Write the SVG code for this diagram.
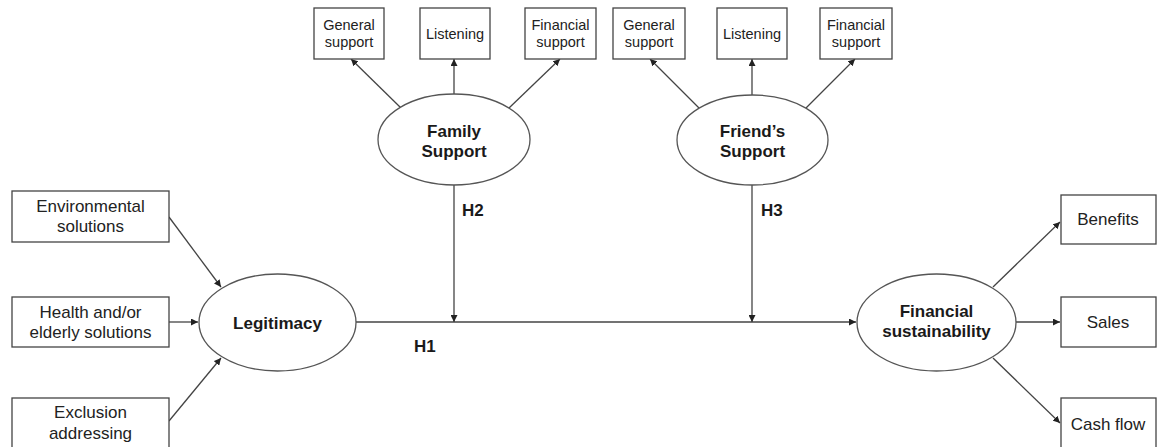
<svg xmlns="http://www.w3.org/2000/svg" width="1157" height="447" viewBox="0 0 1157 447">
<style>
.box{fill:#fff;stroke:#444;stroke-width:1.3}
.ell{fill:#fff;stroke:#555;stroke-width:1.3}
.t{font-family:"Liberation Sans",Arial,sans-serif;font-size:17px;fill:#222;text-anchor:middle}
.s{font-family:"Liberation Sans",Arial,sans-serif;font-size:14.5px;fill:#222;text-anchor:middle}
.b{font-family:"Liberation Sans",Arial,sans-serif;font-size:17px;font-weight:bold;fill:#1a1a1a;text-anchor:middle}
.h{font-family:"Liberation Sans",Arial,sans-serif;font-size:17px;font-weight:bold;fill:#1a1a1a}
.c{stroke:#444;stroke-width:1.3;fill:none;marker-end:url(#ah)}
.n{stroke:#444;stroke-width:1.3;fill:none}
</style>
<defs>
<marker id="ah" viewBox="0 0 10 10" refX="10" refY="5" markerWidth="7" markerHeight="7" markerUnits="userSpaceOnUse" orient="auto">
<path d="M0,0 L10,5 L0,10 z" fill="#222"/>
</marker>
</defs>
<rect width="1157" height="447" fill="#fff"/>
<g id="connectors">
<line class="c" x1="169" y1="217" x2="221" y2="287"/>
<line class="c" x1="169" y1="322" x2="198" y2="322"/>
<line class="c" x1="169" y1="421" x2="221" y2="358"/>
<line class="c" x1="356" y1="322" x2="856" y2="322"/>
<line class="c" x1="454" y1="185" x2="454" y2="322"/>
<line class="c" x1="752" y1="185" x2="752" y2="322"/>
<line class="c" x1="401" y1="108" x2="351" y2="59"/>
<line class="c" x1="454" y1="94" x2="454" y2="59"/>
<line class="c" x1="509" y1="108" x2="560" y2="59"/>
<line class="c" x1="699" y1="108" x2="650" y2="59"/>
<line class="c" x1="752" y1="95" x2="752" y2="59"/>
<line class="c" x1="806" y1="108" x2="855" y2="59"/>
<line class="c" x1="993" y1="287" x2="1060" y2="222"/>
<line class="c" x1="1016" y1="322" x2="1060" y2="322"/>
<line class="c" x1="993" y1="358" x2="1060" y2="423"/>
<text class="h" x="462" y="216">H2</text>
<text class="h" x="761" y="216">H3</text>
<text class="h" x="414" y="352">H1</text>
</g>
<g id="env"><rect class="box" x="12" y="191" width="157" height="51"/><text class="t" x="90.5" y="212">Environmental</text><text class="t" x="90.5" y="232">solutions</text></g>
<g id="health"><rect class="box" x="12" y="297" width="157" height="50"/><text class="t" x="90.5" y="318">Health and/or</text><text class="t" x="90.5" y="338">elderly solutions</text></g>
<g id="excl"><rect class="box" x="12" y="398" width="157" height="60"/><text class="t" x="90.5" y="418">Exclusion</text><text class="t" x="90.5" y="439">addressing</text></g>
<g id="legit"><ellipse class="ell" cx="277.5" cy="322.5" rx="78.5" ry="48.5"/><text class="b" x="277.5" y="328.5">Legitimacy</text></g>
<g id="family"><ellipse class="ell" cx="454" cy="139.5" rx="76" ry="45.5"/><text class="b" x="454" y="137">Family</text><text class="b" x="454" y="157">Support</text></g>
<g id="fam-gen"><rect class="box" x="314" y="8" width="70" height="51"/><text class="s" x="349" y="30">General</text><text class="s" x="349" y="47">support</text></g>
<g id="fam-lis"><rect class="box" x="420" y="8" width="70" height="51"/><text class="s" x="455" y="39">Listening</text></g>
<g id="fam-fin"><rect class="box" x="525" y="8" width="71" height="51"/><text class="s" x="560.5" y="30">Financial</text><text class="s" x="560.5" y="47">support</text></g>
<g id="friend"><ellipse class="ell" cx="752.5" cy="140" rx="75.5" ry="45"/><text class="b" x="752.5" y="137">Friend’s</text><text class="b" x="752.5" y="157">Support</text></g>
<g id="fr-gen"><rect class="box" x="613" y="8" width="72" height="51"/><text class="s" x="649" y="30">General</text><text class="s" x="649" y="47">support</text></g>
<g id="fr-lis"><rect class="box" x="717" y="8" width="70" height="51"/><text class="s" x="752" y="39">Listening</text></g>
<g id="fr-fin"><rect class="box" x="820" y="8" width="72" height="51"/><text class="s" x="856" y="30">Financial</text><text class="s" x="856" y="47">support</text></g>
<g id="finsus"><ellipse class="ell" cx="936.5" cy="322.5" rx="79.5" ry="48.5"/><text class="b" x="936.5" y="317">Financial</text><text class="b" x="936.5" y="337">sustainability</text></g>
<g id="benefits"><rect class="box" x="1061" y="195" width="95" height="49"/><text class="t" x="1108" y="225">Benefits</text></g>
<g id="sales"><rect class="box" x="1061" y="297" width="95" height="50"/><text class="t" x="1108" y="328">Sales</text></g>
<g id="cash"><rect class="box" x="1061" y="398" width="95" height="60"/><text class="t" x="1108" y="430">Cash flow</text></g>
</svg>
